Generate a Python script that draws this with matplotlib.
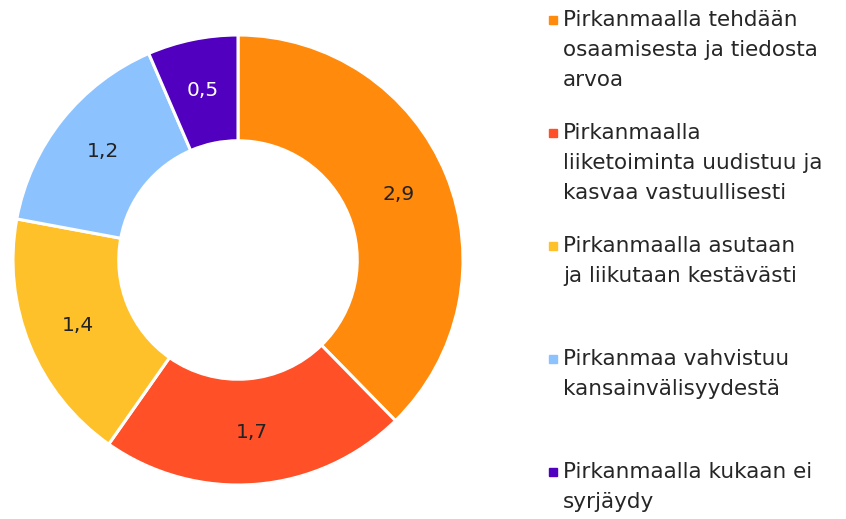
import matplotlib.pyplot as plt
from matplotlib.patches import Rectangle
import numpy as np

labels = [
    "Pirkanmaalla tehdään\nosaamisesta ja tiedosta\narvoa",
    "Pirkanmaalla\nliiketoiminta uudistuu ja\nkasvaa vastuullisesti",
    "Pirkanmaalla asutaan\nja liikutaan kestävästi",
    "Pirkanmaa vahvistuu\nkansainvälisyydestä",
    "Pirkanmaalla kukaan ei\nsyrjäydy",
]
values = [2.9, 1.7, 1.4, 1.2, 0.5]
colors = ["#FF8A0C", "#FF5028", "#FFC12A", "#8CC3FF", "#5000BE"]
label_colors = ["#222222", "#222222", "#222222", "#222222", "white"]

W, H = 846, 519
fig = plt.figure(figsize=(W / 100, H / 100), dpi=100)
plt.rcParams['font.family'] = ['DejaVu Sans']

cx, cy, r = 238, 260, 225
ax = fig.add_axes([(cx - r) / W, (H - cy - r) / H, 2 * r / W, 2 * r / H])
wedges, _ = ax.pie(values, colors=colors, startangle=90, counterclock=False,
                   radius=1, wedgeprops=dict(width=0.47, edgecolor='white', linewidth=2.2))
ax.set_xlim(-1, 1)
ax.set_ylim(-1, 1)
ax.axis('off')

# data labels in the middle of the ring
total = sum(values)
start = 90.0
for v, c in zip(values, label_colors):
    mid = np.deg2rad(start - v / total * 360 / 2)
    rr = 0.77
    ax.text(rr * np.cos(mid), rr * np.sin(mid), f"{v:.1f}".replace('.', ','),
            ha='center', va='center', fontsize=14.5, color=c)
    start -= v / total * 360

# legend, one line at a time
top = 20
step = 113
line_h = 30
for i, (lab, col) in enumerate(zip(labels, colors)):
    y = top + i * step
    fig.patches.append(Rectangle((549 / W, 1 - (y + 4) / H), 8 / W, 8 / H,
                                 transform=fig.transFigure, color=col))
    for j, line in enumerate(lab.split('\n')):
        fig.text(563 / W, 1 - (y + j * line_h) / H, line, ha='left', va='center',
                 fontsize=15.5, color='#262626')

fig.savefig('out.png', dpi=100)
